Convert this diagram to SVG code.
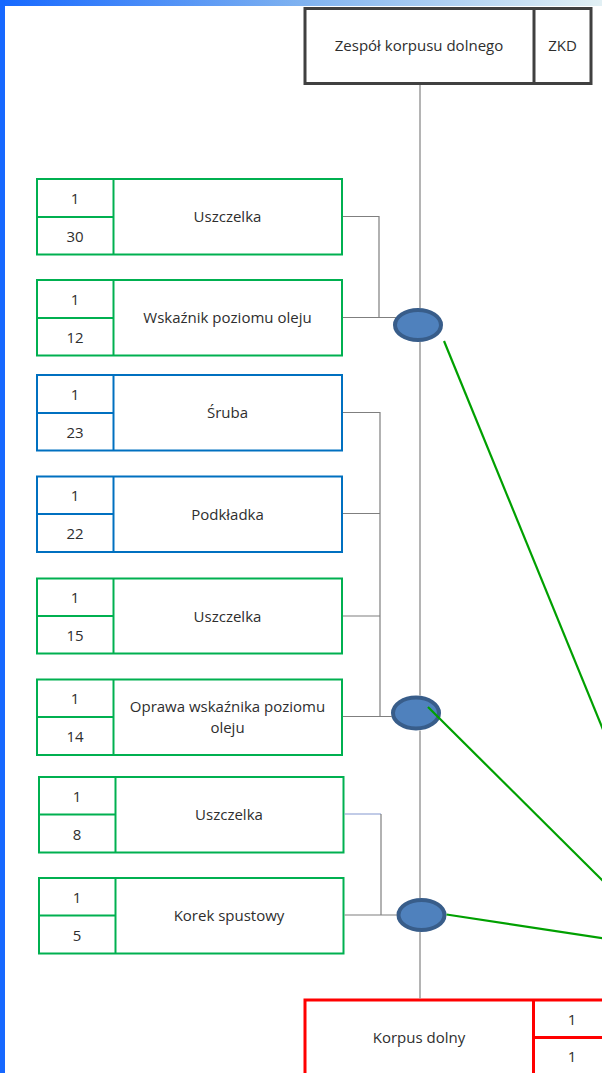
<svg xmlns="http://www.w3.org/2000/svg" width="602" height="1073" viewBox="0 0 602 1073">
  <defs>
    <linearGradient id="topBar" x1="0" y1="0" x2="1" y2="0">
      <stop offset="0" stop-color="#1668ff"/>
      <stop offset="0.5" stop-color="#7fb2f0"/>
      <stop offset="1" stop-color="#e2f0f4"/>
    </linearGradient>
    <style>
      text { font-family: "Open Sans", "Liberation Sans", sans-serif; font-size: 15px; fill: #2e2e2e; text-anchor: middle; }
      .green rect, .green line { fill: none; stroke: #00b050; stroke-width: 2; }
      .blue rect, .blue line { fill: none; stroke: #0070c0; stroke-width: 2; }
      .dark rect, .dark line { fill: none; stroke: #404040; stroke-width: 3; }
      .red rect, .red line { fill: none; stroke: #ff0000; stroke-width: 3; }
      .joint { fill: #4f81bd; stroke: #385d8a; stroke-width: 4; }
      .wire { fill: none; stroke: #7f7f7f; stroke-width: 1.2; }
      .spine { fill: none; stroke: #8c8c8c; stroke-width: 1.3; }
      .wire-blue { fill: none; stroke: #8497d0; stroke-width: 1.2; }
      .link { fill: none; stroke: #00a000; stroke-width: 2.2; }
    </style>
  </defs>

  <rect x="0" y="0" width="602" height="1073" fill="#ffffff"/>
  <!-- frame accents -->
  <rect x="0" y="0" width="602" height="6" fill="url(#topBar)"/>
  <rect x="0" y="0" width="5" height="1073" fill="#1668ff"/>

  <!-- assembly header -->
  <g id="zespol-korpusu-dolnego" class="dark">
    <rect x="305" y="8.5" width="286" height="75"/>
    <line x1="534" y1="8.5" x2="534" y2="83.5"/>
    <text x="419" y="51">Zespół korpusu dolnego</text>
    <text x="562.5" y="51">ZKD</text>
  </g>

  <!-- parts -->
  <g id="uszczelka-30" class="green">
    <rect x="37" y="179" width="305" height="75.5"/>
    <line x1="113.5" y1="179" x2="113.5" y2="254.5"/>
    <line x1="37" y1="217" x2="113.5" y2="217"/>
    <text x="75" y="203.5">1</text>
    <text x="75" y="241.5">30</text>
    <text x="227.5" y="222">Uszczelka</text>
  </g>

  <g id="wskaznik-poziomu-oleju" class="green">
    <rect x="37" y="280" width="305" height="75.5"/>
    <line x1="113.5" y1="280" x2="113.5" y2="355.5"/>
    <line x1="37" y1="318" x2="113.5" y2="318"/>
    <text x="75" y="304.5">1</text>
    <text x="75" y="342.5">12</text>
    <text x="227.5" y="323">Wskaźnik poziomu oleju</text>
  </g>

  <g id="sruba-23" class="blue">
    <rect x="37" y="375" width="305" height="75.5"/>
    <line x1="113.5" y1="375" x2="113.5" y2="450.5"/>
    <line x1="37" y1="413" x2="113.5" y2="413"/>
    <text x="75" y="399.5">1</text>
    <text x="75" y="437.5">23</text>
    <text x="227.5" y="418">Śruba</text>
  </g>

  <g id="podkladka-22" class="blue">
    <rect x="37" y="476.5" width="305" height="75.5"/>
    <line x1="113.5" y1="476.5" x2="113.5" y2="552"/>
    <line x1="37" y1="514" x2="113.5" y2="514"/>
    <text x="75" y="501">1</text>
    <text x="75" y="539">22</text>
    <text x="227.5" y="519.5">Podkładka</text>
  </g>

  <g id="uszczelka-15" class="green">
    <rect x="37" y="578.5" width="305" height="75"/>
    <line x1="113.5" y1="578.5" x2="113.5" y2="653.5"/>
    <line x1="37" y1="616" x2="113.5" y2="616"/>
    <text x="75" y="603">1</text>
    <text x="75" y="641">15</text>
    <text x="227.5" y="621.5">Uszczelka</text>
  </g>

  <g id="oprawa-wskaznika" class="green">
    <rect x="37" y="679.5" width="305" height="75.5"/>
    <line x1="113.5" y1="679.5" x2="113.5" y2="755"/>
    <line x1="37" y1="717" x2="113.5" y2="717"/>
    <text x="75" y="704">1</text>
    <text x="75" y="742">14</text>
    <text x="227.5" y="712">Oprawa wskaźnika poziomu</text>
    <text x="227.5" y="733">oleju</text>
  </g>

  <g id="uszczelka-8" class="green">
    <rect x="39" y="777" width="304.5" height="75.5"/>
    <line x1="115.5" y1="777" x2="115.5" y2="852.5"/>
    <line x1="39" y1="814.5" x2="115.5" y2="814.5"/>
    <text x="77" y="801.5">1</text>
    <text x="77" y="839.5">8</text>
    <text x="229" y="820">Uszczelka</text>
  </g>

  <g id="korek-spustowy" class="green">
    <rect x="39" y="878" width="304.5" height="75.5"/>
    <line x1="115.5" y1="878" x2="115.5" y2="953.5"/>
    <line x1="39" y1="915.5" x2="115.5" y2="915.5"/>
    <text x="77" y="902.5">1</text>
    <text x="77" y="940.5">5</text>
    <text x="229" y="921">Korek spustowy</text>
  </g>

  <g id="korpus-dolny" class="red">
    <rect x="305" y="1000" width="306" height="76"/>
    <line x1="533.5" y1="1000" x2="533.5" y2="1076"/>
    <line x1="533.5" y1="1037.5" x2="611" y2="1037.5"/>
    <text x="419" y="1043">Korpus dolny</text>
    <text x="572" y="1024.5">1</text>
    <text x="572" y="1061.5">1</text>
  </g>

  <!-- assembly joints -->
  <g id="joint-1"><ellipse class="joint" cx="418" cy="325" rx="23" ry="15"/></g>
  <g id="joint-2"><ellipse class="joint" cx="416" cy="713" rx="23" ry="15.5"/></g>
  <g id="joint-3"><ellipse class="joint" cx="421.5" cy="915" rx="23" ry="15"/></g>

  <g id="connectors">
    <!-- main spine -->
    <line class="spine" x1="420" y1="85" x2="420" y2="308"/>
    <line class="spine" x1="420" y1="342" x2="420" y2="695.5"/>
    <line class="spine" x1="420" y1="730.5" x2="420" y2="898"/>
    <line class="spine" x1="420" y1="932" x2="420" y2="998.5"/>
    <!-- joint 1 feeders -->
    <polyline class="wire" points="343,216.5 379,216.5 379,317.5"/>
    <line class="wire" x1="343" y1="317.5" x2="396" y2="317.5"/>
    <!-- joint 2 feeders -->
    <polyline class="wire" points="343,412.5 380,412.5 380,716.5"/>
    <line class="wire" x1="343" y1="513.5" x2="380" y2="513.5"/>
    <line class="wire" x1="343" y1="616" x2="380" y2="616"/>
    <line class="wire" x1="343" y1="716.5" x2="392" y2="716.5"/>
    <!-- joint 3 feeders -->
    <line class="wire-blue" x1="344.5" y1="814" x2="381" y2="814"/>
    <line class="wire" x1="381" y1="814" x2="381" y2="915"/>
    <line class="wire" x1="344.5" y1="915" x2="397" y2="915"/>
    <!-- links to the right -->
    <line class="link" x1="444" y1="341" x2="604" y2="732"/>
    <line class="link" x1="428" y1="707" x2="604" y2="882"/>
    <line class="link" x1="446.5" y1="914.5" x2="604" y2="938.5"/>
  </g>
</svg>
